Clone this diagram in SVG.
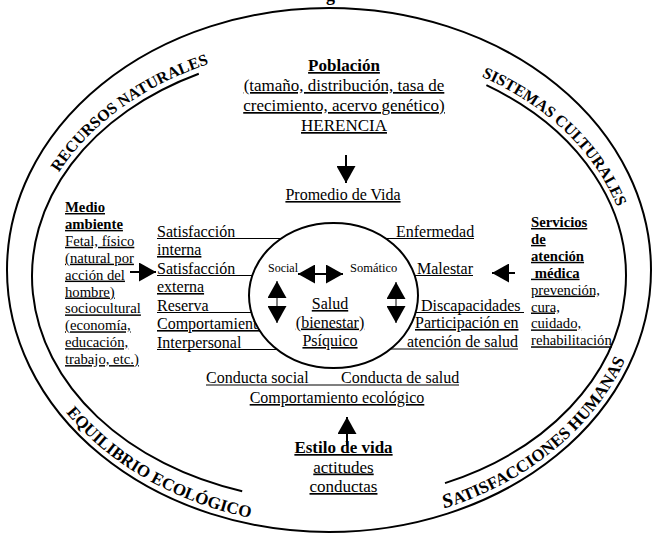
<svg xmlns="http://www.w3.org/2000/svg" width="657" height="534" viewBox="0 0 657 534">
<style>
text{font-family:"Liberation Serif","Times New Roman",serif;fill:#000}
.t16{font-size:16px}
.t17{font-size:17px}
.s{font-size:14.7px}
.u{text-decoration:underline}
.b{font-weight:bold}
.ring{font-size:16px;font-weight:bold}
.ringb{font-size:17px;font-weight:bold}
.ln{stroke:#000;stroke-width:1.1;fill:none}
.thick{stroke:#000;stroke-width:2;fill:none}
.arr{stroke:#000;stroke-width:2;fill:none}
.arrthin{stroke:#000;stroke-width:1;fill:none}
</style>
<defs>
<marker id="ah" viewBox="0 0 10 10" refX="10" refY="5" markerWidth="17" markerHeight="19" markerUnits="userSpaceOnUse" orient="auto-start-reverse" preserveAspectRatio="none">
<path d="M0,0 L10,5 L0,10 z" fill="#000"/>
</marker>
<path id="pRec" d="M 28.7 257.1 A 301 228 0 0 1 297.5 46.3"/>
<path id="pSis" d="M 401.8 51.8 A 301 228 0 0 1 629.3 288.9"/>
<path id="pEqu" d="M 21.1 328.4 A 316 255 0 0 0 345.5 525.6"/>
<path id="pSat" d="M 367.5 524.1 A 316 255 0 0 0 644.6 284.3"/>
</defs>
<rect width="657" height="534" fill="#fff"/>
<text x="326" y="0.5" style="font-size:18px;font-weight:bold">g</text>

<g id="ring">
<ellipse cx="329" cy="270" rx="322" ry="262" class="thick"/>
<path d="M 198.8 73.8 A 297 225 0 0 0 242.2 491.2" class="thick"/>
<path d="M 486.4 85.2 A 297 225 0 0 1 445 483.1" class="thick"/>
<text class="ring"><textPath href="#pRec" startOffset="50%" text-anchor="middle">RECURSOS NATURALES</textPath></text>
<text class="ring"><textPath href="#pSis" startOffset="50%" text-anchor="middle">SISTEMAS CULTURALES</textPath></text>
<text class="ringb"><textPath href="#pEqu" startOffset="50%" text-anchor="middle">EQUILIBRIO ECOLÓGICO</textPath></text>
<text class="ringb"><textPath href="#pSat" startOffset="50%" text-anchor="middle"><tspan style="font-size:20px;font-style:italic">S</tspan>ATISFACCIONES HUMANAS</textPath></text>
</g>

<g id="poblacion" class="t17" text-anchor="middle">
<text x="344" y="71" class="t17 b u">Población</text>
<text x="344" y="91" class="t17 u">(tamaño, distribución, tasa de</text>
<text x="344" y="111" class="t17 u">crecimiento, acervo genético)</text>
<text x="344" y="131" class="t17 u">HERENCIA</text>
</g>

<g id="promedio">
<text x="343" y="200" class="t16 u" text-anchor="middle">Promedio de Vida</text>
</g>

<g id="medio-ambiente" class="s">
<text x="65" y="212" class="s b u">Medio</text>
<text x="65" y="228.9" class="s b u">ambiente</text>
<text x="65" y="245.8" class="s u">Fetal, físico</text>
<text x="65" y="262.7" class="s u">(natural por</text>
<text x="65" y="279.6" class="s u">acción del</text>
<text x="65" y="296.5" class="s u">hombre)</text>
<text x="65" y="313.4" class="s u">sociocultural</text>
<text x="65" y="330.3" class="s u">(economía,</text>
<text x="65" y="347.2" class="s u">educación,</text>
<text x="65" y="364.1" class="s u">trabajo, etc.)</text>
</g>

<g id="servicios" class="s">
<text x="531" y="227" class="s b u">Servicios</text>
<text x="531" y="243.9" class="s b u">de</text>
<text x="531" y="260.8" class="s b u">atención</text>
<text x="531" y="277.7" class="s b u" xml:space="preserve"> médica</text>
<text x="531" y="294.6" class="s u">prevención,</text>
<text x="531" y="311.5" class="s u">cura,</text>
<text x="531" y="328.4" class="s u">cuidado,</text>
<text x="531" y="345.3" class="s u">rehabilitación</text>
</g>

<g id="factores-izquierda" class="t16">
<line x1="157" y1="238.5" x2="300" y2="238.5" class="ln"/>
<line x1="157" y1="275.5" x2="300" y2="275.5" class="ln"/>
<line x1="157" y1="312.5" x2="300" y2="312.5" class="ln"/>
<line x1="157" y1="349.5" x2="300" y2="349.5" class="ln"/>
<text x="157" y="236.5" class="t16">Satisfacción</text>
<text x="157" y="255" class="t16 u">interna</text>
<text x="157" y="273.5" class="t16">Satisfacción</text>
<text x="157" y="292" class="t16 u">externa</text>
<text x="157" y="310.5" class="t16">Reserva</text>
<text x="157" y="329" class="t16 u">Comportamiento</text>
<text x="157" y="347.5" class="t16">Interpersonal</text>
</g>

<g id="factores-derecha" class="t16">
<line x1="360" y1="238.5" x2="474" y2="238.5" class="ln"/>
<line x1="380" y1="275.5" x2="473" y2="275.5" class="ln"/>
<line x1="380" y1="312.5" x2="524" y2="312.5" class="ln"/>
<line x1="360" y1="349" x2="518" y2="349" class="ln"/>
<text x="396" y="236.5" class="t16">Enfermedad</text>
<text x="417" y="273.5" class="t16">Malestar</text>
<text x="421" y="310.5" class="t16">Discapacidades</text>
<text x="415" y="328" class="t16 u">Participación en</text>
<text x="407" y="347" class="t16">atención de salud</text>
</g>

<g id="salud">
<ellipse cx="333.5" cy="295.5" rx="84.5" ry="72.5" fill="#fff" stroke="#000" stroke-width="2"/>
<text x="268" y="272" style="font-size:12px">Social</text>
<text x="350" y="272" style="font-size:12.5px">Somático</text>
<text x="330" y="309" class="t16 u" text-anchor="middle">Salud</text>
<text x="330" y="327.5" class="t16 u" text-anchor="middle">(bienestar)</text>
<text x="330" y="346" class="t16 u" text-anchor="middle">Psíquico</text>
</g>

<g id="conducta">
<line x1="206" y1="385" x2="459" y2="385" class="ln"/>
<text x="206" y="383" class="t16">Conducta social</text>
<text x="341" y="383" class="t16">Conducta de salud</text>
<text x="337" y="403" class="t16 u" text-anchor="middle">Comportamiento ecológico</text>
</g>

<g id="estilo">
<text x="343.5" y="453" class="t17 b u" text-anchor="middle">Estilo de vida</text>
<text x="343.5" y="472.5" class="t17 u" text-anchor="middle">actitudes</text>
<text x="343.5" y="492" class="t17 u" text-anchor="middle">conductas</text>
</g>

<g id="connectors">
<line x1="346" y1="155" x2="346" y2="183" class="arr" marker-end="url(#ah)"/>
<line x1="130" y1="272" x2="156" y2="272" class="arr" marker-end="url(#ah)"/>
<line x1="515" y1="273" x2="492" y2="273" class="arr" marker-end="url(#ah)"/>
<line x1="347" y1="446" x2="347" y2="417" class="arr" marker-end="url(#ah)"/>
<line x1="298" y1="274" x2="343" y2="274" class="arr" marker-start="url(#ah)" marker-end="url(#ah)"/>
<line x1="277" y1="281" x2="277" y2="323" class="arrthin" marker-start="url(#ah)" marker-end="url(#ah)"/>
<line x1="396" y1="282" x2="396" y2="323" class="arrthin" marker-start="url(#ah)" marker-end="url(#ah)"/>
</g>
</svg>
